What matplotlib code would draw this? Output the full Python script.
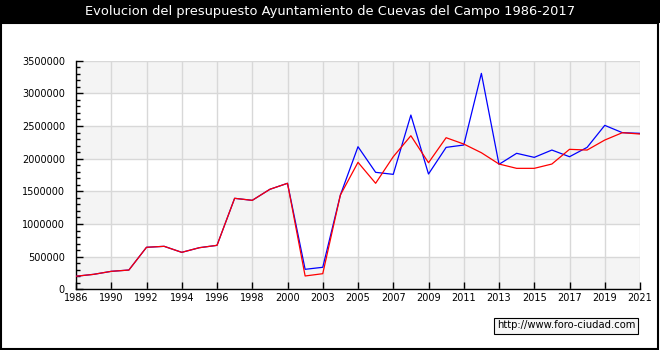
import numpy as np
import matplotlib
matplotlib.use("Agg")
from matplotlib import pyplot as plt
from matplotlib.patches import Rectangle

# years on a categorical axis (only every other one labelled)
years = [1986, 1989, 1990, 1991, 1992, 1993, 1994, 1995, 1996, 1997, 1998, 1999, 2000,
         2001, 2003, 2004, 2005, 2006, 2007, 2008, 2009, 2010, 2011, 2012, 2013,
         2014, 2015, 2016, 2017, 2018, 2019, 2020, 2021]
tick_labels = ["1986", "1990", "1992", "1994", "1996", "1998", "2000", "2003", "2005",
               "2007", "2009", "2011", "2013", "2015", "2017", "2019", "2021"]

blue_vals = [200000, 229000, 275000, 295000, 643000, 658000, 566000, 637000, 673000,
             1393000, 1362000, 1531000, 1623000, 306000, 337000, 1443000, 2183000,
             1791000, 1760000, 2668000, 1765000, 2173000, 2209000, 3306000, 1913000,
             2082000, 2020000, 2132000, 2030000, 2173000, 2510000, 2398000, 2388000]
red_vals = [200000, 229000, 275000, 295000, 643000, 658000, 566000, 637000, 673000,
            1393000, 1362000, 1531000, 1623000, 204000, 239000, 1443000, 1944000,
            1623000, 2030000, 2351000, 1938000, 2321000, 2224000, 2091000, 1918000,
            1852000, 1852000, 1918000, 2143000, 2132000, 2285000, 2398000, 2377000]

W, H = 660, 350
fig = plt.figure(figsize=(W / 100, H / 100), dpi=100)
fig.patch.set_facecolor("white")

# title bar
fig.patches.append(Rectangle((0, 1 - 23.3 / H), 1, 23.3 / H, transform=fig.transFigure,
                             facecolor="black", edgecolor="none"))
fig.text(0.5, 1 - 12 / H, "Evolucion del presupuesto Ayuntamiento de Cuevas del Campo 1986-2017",
         color="white", ha="center", va="center", fontsize=9.4)
# outer border
fig.patches.append(Rectangle((0.7 / W, 1.2 / H), (W - 2.6) / W, (H - 24) / H,
                             transform=fig.transFigure, facecolor="none",
                             edgecolor="black", linewidth=1.5))

ax = fig.add_axes([76 / W, (H - 289.3) / H, (640 - 76) / W, (289.3 - 60.7) / H])
x = np.arange(len(years))
ax.set_xlim(0, len(years) - 1)
ax.set_ylim(0, 3500000)

# alternating bands
for i, lo in enumerate(range(0, 3500000, 500000)):
    if i % 2 == 0:
        ax.axhspan(lo, lo + 500000, color="#f4f4f4", zorder=0, lw=0)

ax.set_yticks(np.arange(0, 3500001, 500000))
ax.set_yticks(np.arange(0, 3500001, 100000), minor=True)
ax.set_yticklabels([str(v) for v in range(0, 3500001, 500000)])
ax.set_xticks(x[::2])
ax.set_xticklabels(tick_labels)
ax.grid(True, color="#d8d8d8", linewidth=1)
ax.set_axisbelow(True)

ax.plot(x, blue_vals, color="blue", linewidth=0.9, zorder=3)
ax.plot(x, red_vals, color="red", linewidth=0.9, zorder=4)

for s in ["top", "right"]:
    ax.spines[s].set_visible(False)
for s in ["left", "bottom"]:
    ax.spines[s].set_linewidth(1)
ax.tick_params(axis="both", which="both", direction="in", labelsize=7, width=1, color="black")
ax.tick_params(axis="y", which="major", length=5, pad=8)
ax.tick_params(axis="y", which="minor", length=3)
ax.tick_params(axis="x", which="major", length=5, pad=3)

fig.text(566 / W, 1 - 325.5 / H, "http://www.foro-ciudad.com", ha="center", va="center",
         fontsize=7.2, bbox=dict(boxstyle="square,pad=0.3", facecolor="#f6f6f6",
                                 edgecolor="black", linewidth=0.8))

fig.savefig("out.png", dpi=100)
